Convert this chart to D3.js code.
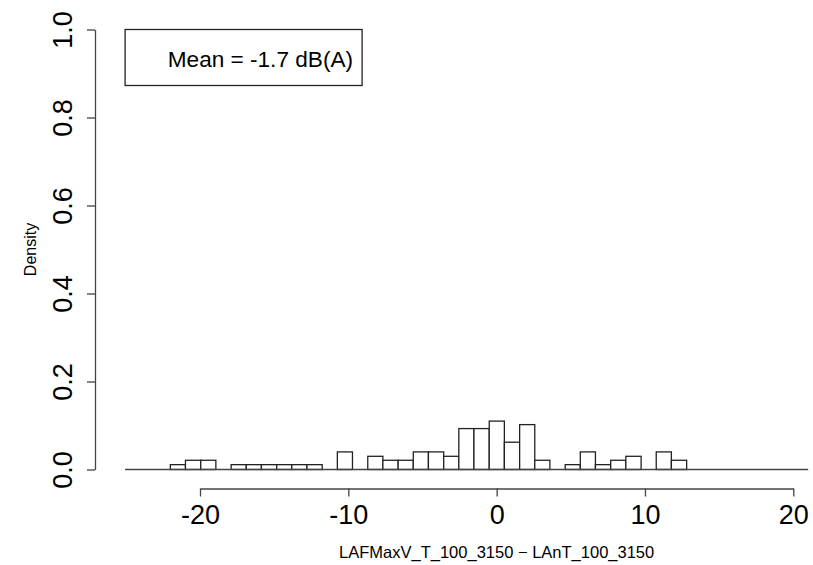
<!DOCTYPE html>
<html>
<head>
<meta charset="utf-8">
<title>Histogram</title>
<script src="https://cdn.jsdelivr.net/npm/d3@7"></script>
<style>
  body { margin: 0; background: #fff; }
  svg { font-family: "Liberation Sans", Arial, sans-serif; }
  .bar { fill: #fff; stroke: #222; stroke-width: 1.3; }
  .axis path, .axis line { stroke: #444; stroke-width: 1.3; }
</style>
</head>
<body>
<div id="chart"></div>
<script>
// bin edges (34 equal bins from the data range)
var breaks = [-22.00, -20.98, -19.95, -18.93, -17.90, -16.88, -15.86, -14.83, -13.81, -12.79,
              -11.76, -10.74, -9.72, -8.69, -7.67, -6.64, -5.62, -4.60, -3.57, -2.55,
              -1.53, -0.50, 0.52, 1.55, 2.57, 3.59, 4.62, 5.64, 6.66, 7.69,
              8.71, 9.74, 10.76, 11.78, 12.81];
var density = [0.011, 0.021, 0.021, 0, 0.011, 0.011, 0.011, 0.011, 0.011, 0.011,
               0, 0.040, 0, 0.030, 0.021, 0.021, 0.040, 0.040, 0.030, 0.093,
               0.093, 0.110, 0.062, 0.102, 0.021, 0, 0.011, 0.040, 0.011, 0.021,
               0.030, 0, 0.040, 0.021];
var xTicks = [-20, -10, 0, 10, 20];
var yTicks = [0, 0.2, 0.4, 0.6, 0.8, 1.0];
var meanLabel = "Mean = -1.7 dB(A)";
var xTitle = "LAFMaxV_T_100_3150 \u2212 LAnT_100_3150";
var yTitle = "Density";

var width = 813, height = 565;
var plotXLim = [-25.05, 21.0];

var svg = d3.select("#chart").append("svg")
    .attr("width", width)
    .attr("height", height);

var x = d3.scaleLinear().domain([-20, 20]).range([200, 793.3]);
var y = d3.scaleLinear().domain([0, 1]).range([469.5, 29.5]);

// bars
var bins = density.map(function(d, i) { return {x0: breaks[i], x1: breaks[i + 1], d: d}; });
svg.append("g").selectAll("rect")
    .data(bins.filter(function(b) { return b.d > 0; }))
  .enter().append("rect")
    .attr("class", "bar")
    .attr("x", function(b) { return x(b.x0); })
    .attr("width", function(b) { return x(b.x1) - x(b.x0); })
    .attr("y", function(b) { return y(b.d); })
    .attr("height", function(b) { return y(0) - y(b.d); });

// zero line
svg.append("line")
    .attr("x1", x(plotXLim[0])).attr("x2", x(plotXLim[1]))
    .attr("y1", y(0)).attr("y2", y(0))
    .attr("stroke", "#444").attr("stroke-width", 1.3);

// x axis (plain hyphen for negatives, like R)
var gx = svg.append("g")
    .attr("class", "axis")
    .attr("transform", "translate(0,488.5)")
    .call(d3.axisBottom(x).tickValues(xTicks).tickSize(8).tickSizeOuter(0)
      .tickFormat(function(d) { return String(d); }));
gx.selectAll("text")
    .attr("y", 35.5).attr("dy", null)
    .attr("fill", "#000")
    .style("font-size", "27px")
    .style("font-family", "'Liberation Sans', Arial, sans-serif");

// y axis
var gy = svg.append("g")
    .attr("class", "axis")
    .attr("transform", "translate(95,0)")
    .call(d3.axisLeft(y).tickValues(yTicks).tickSize(8).tickSizeOuter(0)
      .tickFormat(function(d) { return d.toFixed(1); }));
gy.selectAll("text")
    .attr("x", null).attr("y", null).attr("dy", null)
    .attr("transform", "translate(-23,0) rotate(-90)")
    .attr("text-anchor", "middle")
    .attr("fill", "#000")
    .style("font-size", "27px")
    .style("font-family", "'Liberation Sans', Arial, sans-serif");

// titles
svg.append("text")
    .attr("x", x(0)).attr("y", 558)
    .attr("text-anchor", "middle")
    .style("font-size", "16.5px")
    .text(xTitle);

svg.append("text")
    .attr("transform", "translate(36," + y(0.5) + ") rotate(-90)")
    .attr("text-anchor", "middle")
    .style("font-size", "16px")
    .text(yTitle);

// legend
svg.append("rect")
    .attr("x", x(plotXLim[0])).attr("y", y(1))
    .attr("width", 237).attr("height", 56)
    .attr("fill", "none").attr("stroke", "#222").attr("stroke-width", 1.3);
svg.append("text")
    .attr("x", 353).attr("y", 66.5)
    .attr("text-anchor", "end")
    .style("font-size", "22.6px")
    .text(meanLabel);
</script>
</body>
</html>
